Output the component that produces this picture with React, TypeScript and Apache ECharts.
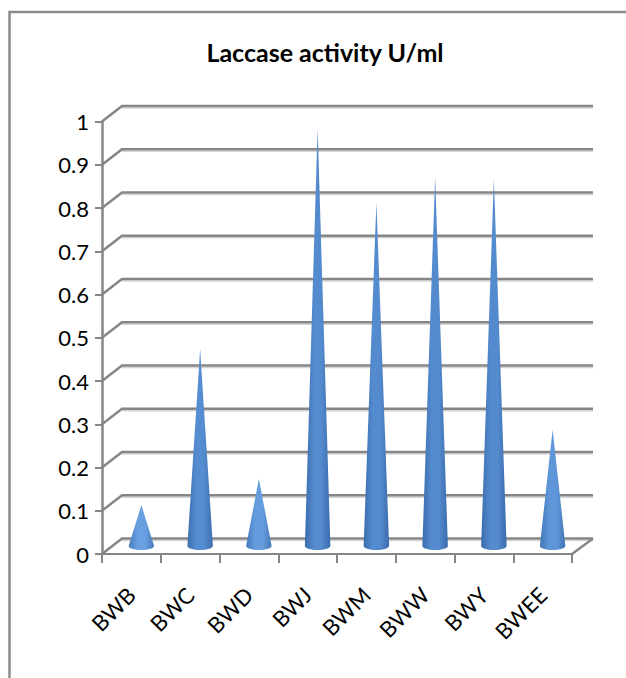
import React, { useEffect, useRef } from "react";
import * as echarts from "echarts";

const titleText = "Laccase activity U/ml";
const categories = ["BWB", "BWC", "BWD", "BWJ", "BWM", "BWW", "BWY", "BWEE"];
const laccase = [0.095, 0.455, 0.156, 0.967, 0.795, 0.853, 0.85, 0.27];
const yTicks = [0, 0.1, 0.2, 0.3, 0.4, 0.5, 0.6, 0.7, 0.8, 0.9, 1];

const DEPTH_X = 20;
const DEPTH_Y = 15.5;
const AXIS = "#868686";

function mix(a: number[], b: number[], t: number) {
  return "rgb(" + a.map((v, i) => Math.round(v + (b[i] - v) * t)).join(",") + ")";
}

export default function App() {
  const ref = useRef<HTMLDivElement>(null);
  useEffect(() => {
    document.body.style.margin = "0";
    const chart = echarts.init(ref.current!, undefined, { renderer: "svg" });
    chart.setOption({
      animation: false,
      backgroundColor: "#ffffff",
      title: {
        text: titleText,
        left: 320,
        top: 34,
        textAlign: "center",
        textStyle: { fontFamily: "Lato", fontWeight: "bold", fontSize: 25, color: "#000" },
      },
      graphic: [
        {
          type: "polyline",
          shape: { points: [[9.5, 678], [9.5, 12], [626, 12]] },
          style: { stroke: "#8c8c8c", lineWidth: 2.5, fill: "none" },
        },
      ],
      grid: { left: 102, right: 54, top: 121.5, bottom: 124 },
      xAxis: {
        type: "category",
        data: categories,
        boundaryGap: true,
        axisLine: { lineStyle: { color: AXIS, width: 2 } },
        axisTick: { show: true, length: 9, alignWithLabel: false, lineStyle: { color: AXIS, width: 2 } },
        axisLabel: {
          rotate: 45,
          margin: 37,
          interval: 0,
          fontFamily: "Lato",
          fontSize: 22,
          color: "#000",
        },
      },
      yAxis: {
        type: "value",
        min: 0,
        max: 1,
        interval: 0.1,
        axisLine: { show: true, lineStyle: { color: AXIS, width: 2.5 } },
        axisTick: { show: true, length: 7, lineStyle: { color: AXIS, width: 2 } },
        splitLine: { show: false },
        axisLabel: { margin: 13, fontFamily: "Lato", fontSize: 22, color: "#000" },
      },
      series: [
        {
          type: "custom",
          name: "walls",
          silent: true,
          clip: false,
          z: 1,
          data: yTicks.map((v) => [0, v]),
          renderItem: (params: any, api: any) => {
            const cs = params.coordSys;
            const v = api.value(1);
            const y = api.coord([0, v])[1];
            const x0 = cs.x;
            const x1 = cs.x + cs.width;
            const lineStyle = { stroke: AXIS, lineWidth: 2.5, fill: "none" };
            const children: any[] = [
              {
                type: "polyline",
                shape: { points: [[x0 + DEPTH_X, y - DEPTH_Y + 2], [x1 + DEPTH_X + 1, y - DEPTH_Y + 2]] },
                style: { stroke: "#d4d4d4", lineWidth: 1.5, fill: "none" },
              },
              {
                type: "polyline",
                shape: { points: [[x0, y], [x0 + DEPTH_X, y - DEPTH_Y], [x1 + DEPTH_X + 1, y - DEPTH_Y]] },
                style: lineStyle,
              },
            ];
            if (v === 0) {
              children.push({
                type: "polyline",
                shape: { points: [[x1, y], [x1 + DEPTH_X + 1, y - DEPTH_Y]] },
                style: lineStyle,
              });
            }
            return { type: "group", children };
          },
        },
        {
          type: "custom",
          name: "Laccase activity",
          clip: false,
          z: 3,
          data: laccase.map((v, i) => [i, v]),
          renderItem: (_params: any, api: any) => {
            const i = api.value(0);
            const v = api.value(1);
            const base = api.coord([i, 0]);
            const tip = api.coord([i, v]);
            const cx = base[0] + DEPTH_X / 2;
            const baseY = base[1] - 8;
            const tipY = tip[1] - DEPTH_Y / 2;
            const rx = api.size([1, 0])[0] * 0.217;
            const ry = 4;
            const pts: number[][] = [[cx, tipY]];
            for (let k = 0; k <= 16; k++) {
              const a = (k / 16) * Math.PI;
              pts.push([cx + rx * Math.cos(a), baseY + ry * Math.sin(a)]);
            }
            const t = Math.min(1, v / 0.5);
            const edge = mix([74, 127, 192], [58, 108, 172], t);
            const mid = mix([107, 164, 228], [84, 138, 206], t);
            return {
              type: "polygon",
              shape: { points: pts },
              style: {
                fill: new echarts.graphic.LinearGradient(0, 0, 1, 0, [
                  { offset: 0, color: edge },
                  { offset: 0.35, color: mid },
                  { offset: 0.65, color: mid },
                  { offset: 1, color: edge },
                ]),
              },
            };
          },
        },
      ],
    });
    return () => chart.dispose();
  }, []);
  return <div ref={ref} style={{ width: 626, height: 678 }} />;
}
